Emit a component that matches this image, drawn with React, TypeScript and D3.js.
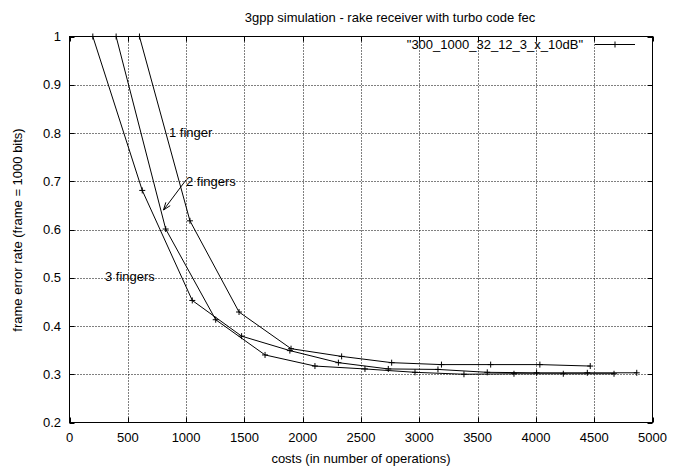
import React, { useEffect, useRef } from 'react';
import * as d3 from 'd3';

// values
const finger1Cost = [600, 1033, 1454, 1900, 2334, 2763, 3190, 3612, 4034, 4466];
const finger1Fer = [1, 0.618, 0.429, 0.353, 0.337, 0.324, 0.32, 0.32, 0.32, 0.317];

const finger2Cost = [400, 825, 1254, 1677, 2105, 2534, 2963, 3383, 3812, 4235, 4670];
const finger2Fer = [1, 0.601, 0.413, 0.34, 0.317, 0.311, 0.304, 0.3, 0.301, 0.301, 0.301];

const finger3Cost = [200, 624, 1053, 1476, 1890, 2306, 2734, 3160, 3583, 4006, 4441, 4865];
const finger3Fer = [1, 0.681, 0.453, 0.379, 0.349, 0.324, 0.311, 0.31, 0.304, 0.303, 0.303, 0.303];

const xTicks = [0, 500, 1000, 1500, 2000, 2500, 3000, 3500, 4000, 4500, 5000];
const yTicks = [0.2, 0.3, 0.4, 0.5, 0.6, 0.7, 0.8, 0.9, 1];

const title = '3gpp simulation - rake receiver with turbo code fec';
const legendLabel = '"300_1000_32_12_3_x_10dB"';

const W = 684;
const H = 468;
const font = 'Liberation Sans, Arial, Helvetica, sans-serif';

export default function App() {
  const ref = useRef<SVGSVGElement>(null);

  useEffect(() => {
    document.body.style.margin = '0';
    const svg = d3.select(ref.current);
    svg.selectAll('*').remove();

    const x = d3.scaleLinear().domain([0, 5000]).range([69.5, 652.5]);
    const y = d3.scaleLinear().domain([0.2, 1]).range([422.5, 36.5]);
    const [x0, x1] = x.range();
    const [y0, y1] = y.range();

    // grid
    const grid = svg.append('g').attr('stroke', '#000').attr('stroke-width', 1).attr('stroke-dasharray', '1,2');
    xTicks.slice(1, -1).forEach(t => {
      grid.append('line').attr('x1', Math.round(x(t)) + 0.5).attr('x2', Math.round(x(t)) + 0.5).attr('y1', y0 - 5).attr('y2', y1 + 5);
    });
    yTicks.slice(1, -1).forEach(t => {
      grid.append('line').attr('y1', Math.round(y(t)) + 0.5).attr('y2', Math.round(y(t)) + 0.5).attr('x1', x0 + 5).attr('x2', x1 - 5);
    });

    // ticks (inward, mirrored)
    const ticks = svg.append('g').attr('stroke', '#000').attr('stroke-width', 1);
    xTicks.forEach(t => {
      const px = Math.round(x(t)) + 0.5;
      ticks.append('line').attr('x1', px).attr('x2', px).attr('y1', y0).attr('y2', y0 - 5);
      ticks.append('line').attr('x1', px).attr('x2', px).attr('y1', y1).attr('y2', y1 + 5);
    });
    yTicks.forEach(t => {
      const py = Math.round(y(t)) + 0.5;
      ticks.append('line').attr('y1', py).attr('y2', py).attr('x1', x0).attr('x2', x0 + 5);
      ticks.append('line').attr('y1', py).attr('y2', py).attr('x1', x1).attr('x2', x1 - 5);
    });

    // border
    svg.append('rect')
      .attr('x', x0).attr('y', y1).attr('width', x1 - x0).attr('height', y0 - y1)
      .attr('fill', 'none').attr('stroke', '#000').attr('stroke-width', 1);

    // tick labels
    const labels = svg.append('g').attr('font-family', font).attr('font-size', 13).attr('fill', '#000');
    xTicks.forEach(t => {
      labels.append('text').attr('x', x(t)).attr('y', 442).attr('text-anchor', 'middle').text(String(t));
    });
    yTicks.forEach(t => {
      labels.append('text').attr('x', 61).attr('y', y(t) + 4.5).attr('text-anchor', 'end').text(d3.format('~g')(t));
    });

    // titles
    svg.append('text').attr('x', 390).attr('y', 22).attr('text-anchor', 'middle')
      .attr('font-family', font).attr('font-size', 13).text(title);
    svg.append('text').attr('x', 361).attr('y', 463).attr('text-anchor', 'middle')
      .attr('font-family', font).attr('font-size', 13).text('costs (in number of operations)');
    svg.append('text').attr('transform', `translate(22, 230) rotate(-90)`).attr('text-anchor', 'middle')
      .attr('font-family', font).attr('font-size', 13).text('frame error rate (frame = 1000 bits)');

    // curves
    const series = [
      { cost: finger1Cost, fer: finger1Fer },
      { cost: finger2Cost, fer: finger2Fer },
      { cost: finger3Cost, fer: finger3Fer },
    ];
    const line = d3.line<[number, number]>().x(d => x(d[0])).y(d => y(d[1]));
    const plus = (g: any, px: number, py: number) => {
      g.append('path')
        .attr('d', `M${px - 3},${py}H${px + 3}M${px},${py - 3}V${py + 3}`)
        .attr('stroke', '#000').attr('stroke-width', 1).attr('fill', 'none');
    };
    series.forEach(s => {
      const pts = s.cost.map((c, i) => [c, s.fer[i]] as [number, number]);
      svg.append('path').attr('d', line(pts)).attr('fill', 'none').attr('stroke', '#000').attr('stroke-width', 1);
      const g = svg.append('g');
      pts.forEach(p => plus(g, x(p[0]), y(p[1])));
    });

    // legend
    svg.append('text').attr('x', 583).attr('y', 49).attr('text-anchor', 'end')
      .attr('font-family', font).attr('font-size', 13).text(legendLabel);
    svg.append('line').attr('x1', 595).attr('x2', 635).attr('y1', 44.5).attr('y2', 44.5).attr('stroke', '#000');
    plus(svg.append('g'), 615, 44.5);

    // annotations
    const notes = svg.append('g').attr('font-family', font).attr('font-size', 13);
    notes.append('text').attr('x', 169).attr('y', 137).text('1 finger');
    notes.append('text').attr('x', 186).attr('y', 186).text('2 fingers');
    notes.append('text').attr('x', 105).attr('y', 281).text('3 fingers');

    // arrow to the 2 fingers curve
    const ax = 186, ay = 180, bx = 163.5, by = 210;
    const ang = Math.atan2(by - ay, bx - ax);
    const len = 8, spread = Math.PI / 9;
    svg.append('path')
      .attr('d', `M${ax},${ay}L${bx},${by}` +
        `M${bx - len * Math.cos(ang - spread)},${by - len * Math.sin(ang - spread)}L${bx},${by}` +
        `L${bx - len * Math.cos(ang + spread)},${by - len * Math.sin(ang + spread)}`)
      .attr('fill', 'none').attr('stroke', '#000').attr('stroke-width', 1);
  }, []);

  return <svg ref={ref} width={W} height={H} style={{ display: 'block', background: '#fff' }} />;
}
